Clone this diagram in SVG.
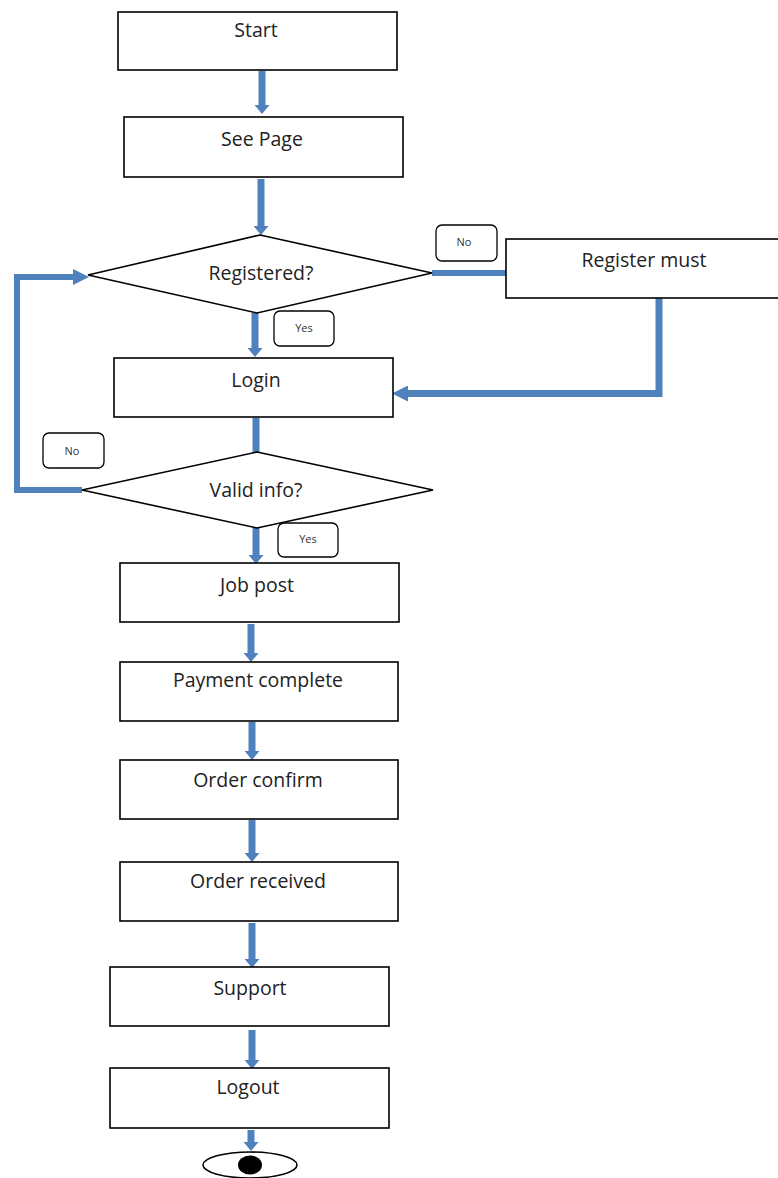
<svg xmlns="http://www.w3.org/2000/svg" width="778" height="1178" viewBox="0 0 778 1178">
<style>
.box{fill:#fff;stroke:#000;stroke-width:1.6}
.lbl{fill:#fff;stroke:#000;stroke-width:1.3}
.t{font-family:"Open Sans","Liberation Sans",sans-serif;font-size:19.5px;fill:#222;text-anchor:middle}
.s{font-family:"Open Sans","Liberation Sans",sans-serif;font-size:11px;fill:#333;text-anchor:middle}
.c{fill:none;stroke:#4f81bd;stroke-width:7}
.ct{fill:none;stroke:#4f81bd;stroke-width:6}
</style>
<defs>
<marker id="ah" markerUnits="userSpaceOnUse" markerWidth="9" markerHeight="15" viewBox="0 0 9 15" refX="0" refY="7.5" orient="auto">
<path d="M0,0 L9,7.5 L0,15 z" fill="#4f81bd"/>
</marker>
<marker id="ahb" markerUnits="userSpaceOnUse" markerWidth="16" markerHeight="16" viewBox="0 0 16 16" refX="0" refY="8" orient="auto">
<path d="M0,0 L16,8 L0,16 z" fill="#4f81bd"/>
</marker>
</defs>
<g id="connectors">
<line class="c" x1="262" y1="71" x2="262" y2="105" marker-end="url(#ah)"/>
<line class="c" x1="261" y1="179" x2="261" y2="226" marker-end="url(#ah)"/>
<line class="ct" x1="432" y1="273" x2="507" y2="273"/>
<line class="c" x1="255" y1="313" x2="255" y2="348" marker-end="url(#ah)"/>
<polyline class="c" points="659,298 659,393.5 408,393.5" marker-end="url(#ahb)"/>
<line class="c" x1="256" y1="418" x2="256" y2="453"/>
<polyline class="ct" points="82,490 17,490 17,277 73,277" marker-end="url(#ahb)"/>
<line class="c" x1="256" y1="528" x2="256" y2="555" marker-end="url(#ah)"/>
<line class="c" x1="251" y1="624" x2="251" y2="653" marker-end="url(#ah)"/>
<line class="c" x1="252" y1="722" x2="252" y2="751" marker-end="url(#ah)"/>
<line class="c" x1="252" y1="820" x2="252" y2="853" marker-end="url(#ah)"/>
<line class="c" x1="252" y1="923" x2="252" y2="959" marker-end="url(#ah)"/>
<line class="c" x1="252" y1="1030" x2="252" y2="1060" marker-end="url(#ah)"/>
<line class="c" x1="251" y1="1130" x2="251" y2="1142" marker-end="url(#ah)"/>
</g>
<g id="start"><rect class="box" x="118" y="12" width="279" height="58"/><text class="t" x="256" y="37">Start</text></g>
<g id="seepage"><rect class="box" x="124" y="117" width="279" height="60"/><text class="t" x="262" y="146">See Page</text></g>
<g id="registered"><polygon class="box" points="260,235 432,273 257,313 88,275"/><text class="t" x="261" y="280">Registered?</text></g>
<g id="registermust"><rect class="box" x="506" y="239" width="280" height="59"/><text class="t" x="644" y="267">Register must</text></g>
<g id="no1"><rect class="lbl" x="436" y="225" width="61" height="36" rx="6"/><text class="s" x="464" y="246">No</text></g>
<g id="yes1"><rect class="lbl" x="274" y="311" width="60" height="35" rx="6"/><text class="s" x="304" y="332">Yes</text></g>
<g id="login"><rect class="box" x="114" y="358" width="279" height="59"/><text class="t" x="256" y="387">Login</text></g>
<g id="validinfo"><polygon class="box" points="257,452 433,490 257,528 82,490"/><text class="t" x="256" y="497">Valid info?</text></g>
<g id="no2"><rect class="lbl" x="43" y="433" width="61" height="35" rx="6"/><text class="s" x="72" y="455">No</text></g>
<g id="yes2"><rect class="lbl" x="278" y="523" width="60" height="34" rx="6"/><text class="s" x="308" y="543">Yes</text></g>
<g id="jobpost"><rect class="box" x="120" y="563" width="279" height="59"/><text class="t" x="257" y="592">Job post</text></g>
<g id="payment"><rect class="box" x="120" y="662" width="278" height="59"/><text class="t" x="258" y="687">Payment complete</text></g>
<g id="orderconfirm"><rect class="box" x="120" y="760" width="278" height="59"/><text class="t" x="258" y="787">Order confirm</text></g>
<g id="orderreceived"><rect class="box" x="120" y="862" width="278" height="59"/><text class="t" x="258" y="888">Order received</text></g>
<g id="support"><rect class="box" x="110" y="967" width="279" height="59"/><text class="t" x="250" y="995">Support</text></g>
<g id="logout"><rect class="box" x="110" y="1068" width="279" height="60"/><text class="t" x="248" y="1094">Logout</text></g>
<g id="end"><ellipse class="box" cx="250" cy="1165" rx="47" ry="13"/><ellipse cx="250" cy="1165" rx="12" ry="9.5" fill="#000"/></g>
</svg>
